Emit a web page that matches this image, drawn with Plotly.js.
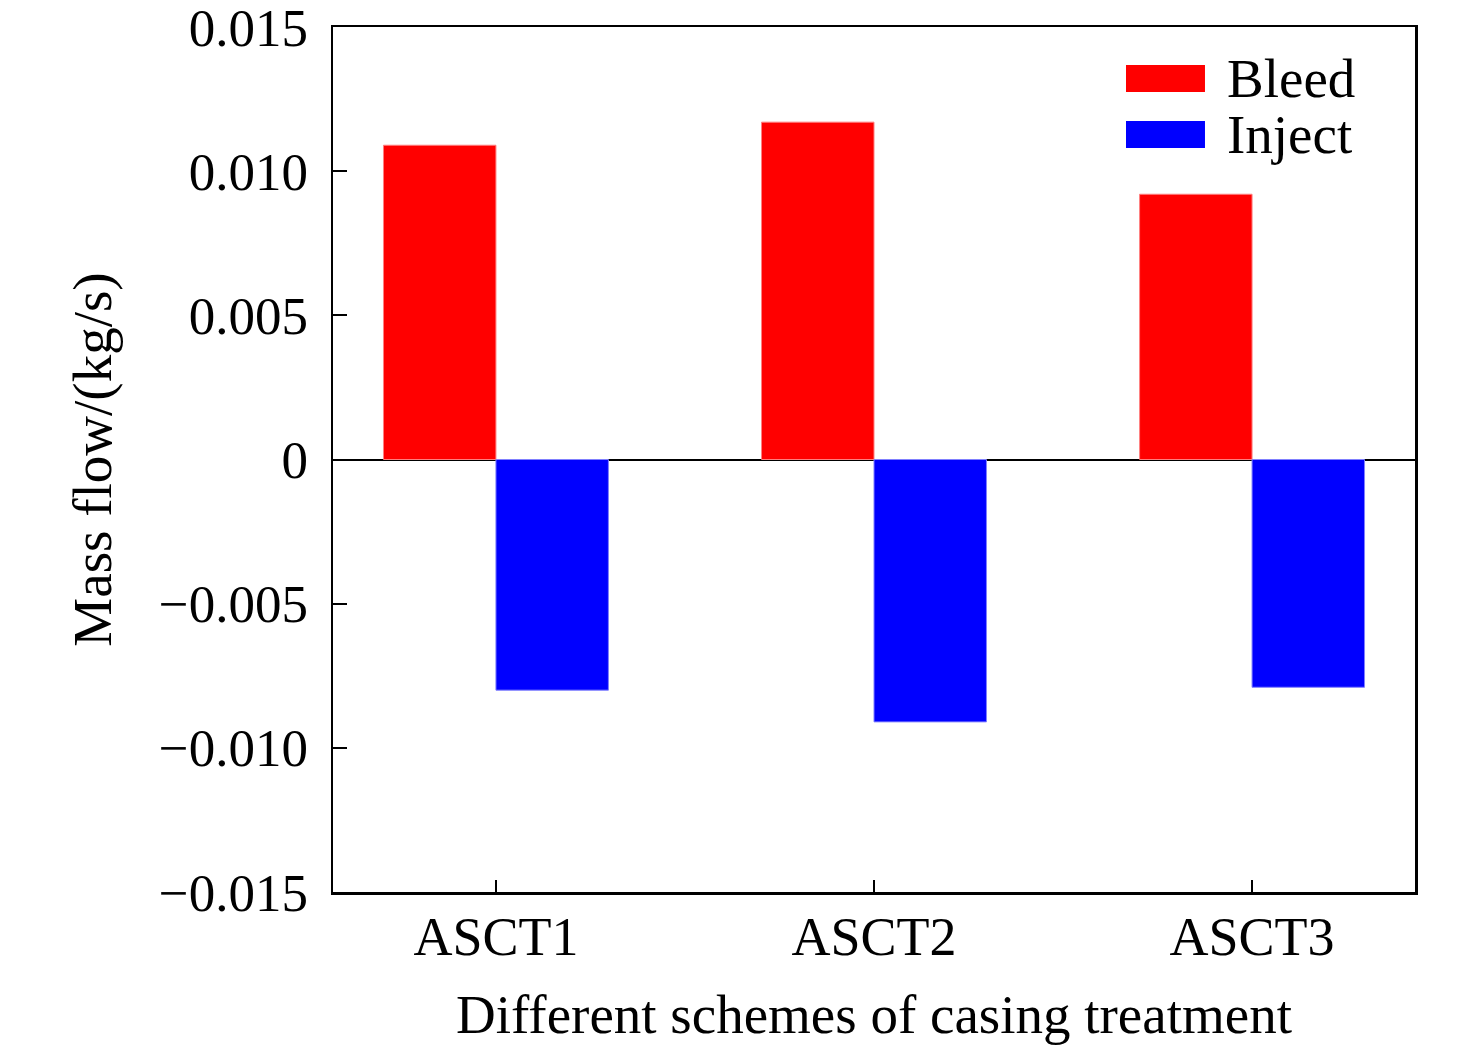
<!DOCTYPE html>
<html>
<head>
<meta charset="utf-8">
<script src="https://cdn.plot.ly/plotly-3.0.1.min.js"></script>
<style>
  body { margin: 0; background: #fff; }
  #chart { width: 1476px; height: 1054px; }
</style>
</head>
<body>
<div id="chart"></div>
<script>
// scheme names and mass flow values
const schemes = ["ASCT1", "ASCT2", "ASCT3"];
const bleedFlow = [0.0109, 0.0117, 0.0092];
const injectFlow = [-0.0080, -0.0091, -0.0079];

const yTickVals = [-0.015, -0.010, -0.005, 0, 0.005, 0.010, 0.015];
const yTickText = ["\u22120.015", "\u22120.010", "\u22120.005", "0", "0.005", "0.010", "0.015"];

const FONT = "Liberation Serif, Times New Roman, serif";

var bleed = {
    x: schemes,
    y: bleedFlow,
    name: "Bleed",
    type: "bar",
    marker: { color: "#ff0000", line: { color: "#ff8080", width: 1 } }
};
var inject = {
    x: schemes,
    y: injectFlow,
    name: "Inject",
    type: "bar",
    marker: { color: "#0000ff", line: { color: "#8080ff", width: 1 } }
};

var layout = {
    width: 1476,
    height: 1054,
    paper_bgcolor: "#ffffff",
    plot_bgcolor: "#ffffff",
    margin: { l: 333, r: 61, t: 27, b: 162 },
    font: { family: FONT, size: 54, color: "#000" },
    showlegend: false,
    barmode: "group",
    bargap: 0.405,
    bargroupgap: 0,
    xaxis: {
        type: "category",
        range: [-0.431, 2.431],
        showline: true,
        linecolor: "#000",
        linewidth: 2.5,
        mirror: true,
        ticks: "inside",
        ticklen: 12,
        tickwidth: 2,
        tickcolor: "#000",
        ticklabelstandoff: -4,
        showgrid: false,
        zeroline: false,
        tickfont: { family: FONT, size: 54 },
        title: { text: "Different schemes of casing treatment", font: { family: FONT, size: 55 }, standoff: 28 }
    },
    yaxis: {
        range: [-0.0150001, 0.0150001],
        tickvals: yTickVals,
        ticktext: yTickText,
        ticklabeloverflow: "allow",
        showline: true,
        linecolor: "#000",
        linewidth: 2.5,
        mirror: true,
        ticks: "inside",
        ticklen: 14,
        tickwidth: 2,
        tickcolor: "#000",
        ticklabelstandoff: 12,
        showgrid: false,
        zeroline: true,
        zerolinecolor: "#000",
        zerolinewidth: 2,
        tickfont: { family: FONT, size: 53 },
        title: { text: "Mass flow/(kg/s)", font: { family: FONT, size: 55 }, standoff: 30 }
    },
    shapes: [
        // legend swatches
        { type: "rect", xref: "paper", yref: "paper", x0: 0.7329, x1: 0.8059, y0: 0.9249, y1: 0.9561,
          fillcolor: "#ff0000", line: { width: 0 } },
        { type: "rect", xref: "paper", yref: "paper", x0: 0.7329, x1: 0.8059, y0: 0.8601, y1: 0.8913,
          fillcolor: "#0000ff", line: { width: 0 } }
    ],
    annotations: [
        { text: "Bleed", xref: "paper", yref: "paper", x: 0.8244, y: 0.9405, xanchor: "left", yanchor: "middle",
          showarrow: false, font: { family: FONT, size: 55 } },
        { text: "Inject", xref: "paper", yref: "paper", x: 0.8244, y: 0.8757, xanchor: "left", yanchor: "middle",
          showarrow: false, font: { family: FONT, size: 55 } }
    ]
};

Plotly.newPlot("chart", [bleed, inject], layout, { displayModeBar: false, staticPlot: true });
</script>
</body>
</html>
